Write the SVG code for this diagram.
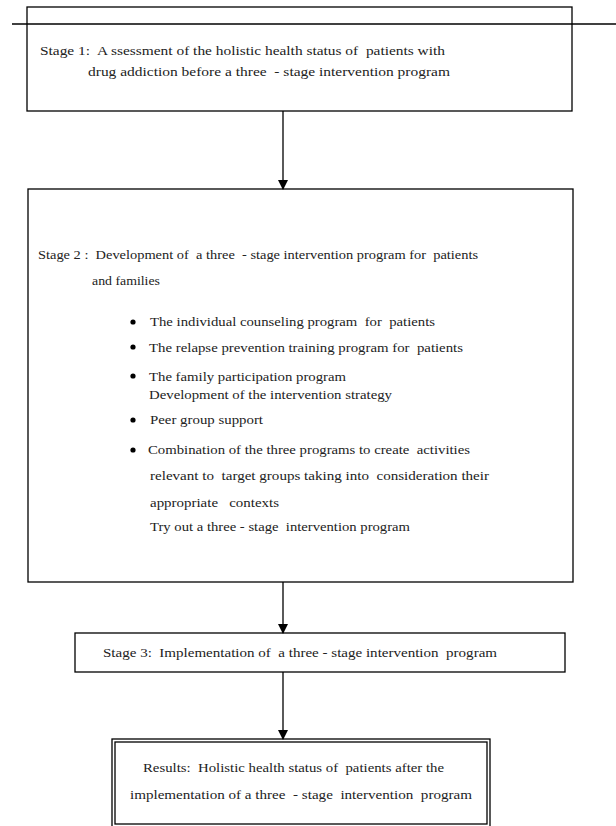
<svg xmlns="http://www.w3.org/2000/svg" width="616" height="826" viewBox="0 0 616 826">
<style>
text{font-family:"Liberation Serif","DejaVu Serif",serif;font-size:13px;fill:#222;white-space:pre}
.box{fill:none;stroke:#000;stroke-width:1.3}
.ln{stroke:#000;stroke-width:1.3;fill:none}
</style>
<defs>
<marker id="ah" markerWidth="10" markerHeight="10" refX="9" refY="5" orient="auto" markerUnits="userSpaceOnUse">
<path d="M0,0 L10,5 L0,10 z" fill="#000"/>
</marker>
</defs>
<rect width="616" height="826" fill="#fff"/>
<line class="ln" x1="12" y1="24" x2="616" y2="24"/>
<g id="stage1">
<rect class="box" x="27" y="7" width="545" height="104"/>
<text x="40" y="55" textLength="405" lengthAdjust="spacingAndGlyphs">Stage 1:  A ssessment of the holistic health status of  patients with</text>
<text x="88" y="76" textLength="362" lengthAdjust="spacingAndGlyphs">drug addiction before a three  - stage intervention program</text>
</g>
<g id="stage2">
<rect class="box" x="28" y="189" width="545" height="393"/>
<text x="38" y="259" textLength="440" lengthAdjust="spacingAndGlyphs">Stage 2 :  Development of  a three  - stage intervention program for  patients</text>
<text x="92" y="285" textLength="68" lengthAdjust="spacingAndGlyphs">and families</text>
<g fill="#000">
<circle cx="133" cy="322" r="2.6"/>
<circle cx="133" cy="347" r="2.6"/>
<circle cx="133" cy="376" r="2.6"/>
<circle cx="133" cy="420" r="2.6"/>
<circle cx="133" cy="450" r="2.6"/>
</g>
<text x="150" y="326" textLength="285" lengthAdjust="spacingAndGlyphs">The individual counseling program  for  patients</text>
<text x="149" y="352" textLength="314" lengthAdjust="spacingAndGlyphs">The relapse prevention training program for  patients</text>
<text x="149" y="381" textLength="197" lengthAdjust="spacingAndGlyphs">The family participation program</text>
<text x="149" y="399" textLength="243" lengthAdjust="spacingAndGlyphs">Development of the intervention strategy</text>
<text x="150" y="424" textLength="113" lengthAdjust="spacingAndGlyphs">Peer group support</text>
<text x="148" y="454" textLength="322" lengthAdjust="spacingAndGlyphs">Combination of the three programs to create  activities</text>
<text x="150" y="480" textLength="339" lengthAdjust="spacingAndGlyphs">relevant to  target groups taking into  consideration their</text>
<text x="150" y="507" textLength="129" lengthAdjust="spacingAndGlyphs">appropriate   contexts</text>
<text x="150" y="531" textLength="260" lengthAdjust="spacingAndGlyphs">Try out a three - stage  intervention program</text>
</g>
<g id="stage3">
<rect class="box" x="75" y="633" width="490" height="39"/>
<text x="103" y="657" textLength="394" lengthAdjust="spacingAndGlyphs">Stage 3:  Implementation of  a three - stage intervention  program</text>
</g>
<g id="results">
<rect class="box" x="112" y="739" width="378" height="90"/>
<rect class="box" x="115" y="742" width="372" height="82"/>
<text x="143" y="772" textLength="301" lengthAdjust="spacingAndGlyphs">Results:  Holistic health status of  patients after the</text>
<text x="130" y="799" textLength="342" lengthAdjust="spacingAndGlyphs">implementation of a three  - stage  intervention  program</text>
</g>
<g id="connectors">
<line class="ln" x1="283" y1="111" x2="283" y2="189" marker-end="url(#ah)"/>
<line class="ln" x1="283" y1="582" x2="283" y2="633" marker-end="url(#ah)"/>
<line class="ln" x1="283" y1="672" x2="283" y2="739" marker-end="url(#ah)"/>
</g>
</svg>
